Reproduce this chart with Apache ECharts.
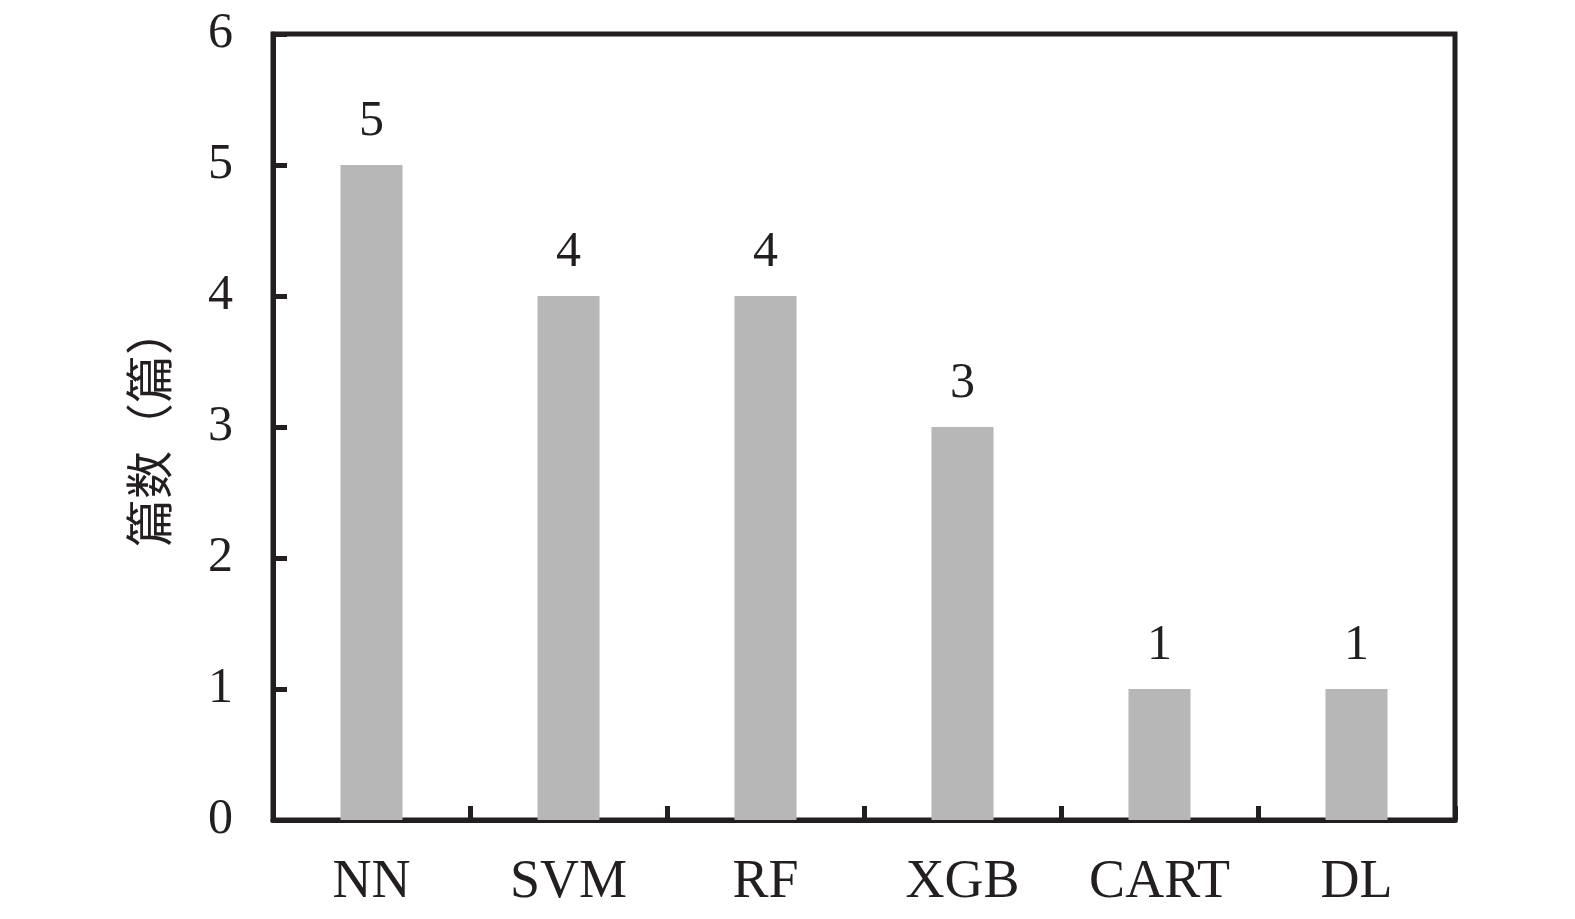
<!DOCTYPE html>
<html>
<head>
<meta charset="utf-8">
<script src="https://cdn.jsdelivr.net/npm/echarts@6/dist/echarts.min.js"></script>
<style>
html,body{margin:0;padding:0;background:#fff;}
#chart{width:1575px;height:919px;}
</style>
</head>
<body>
<div id="chart"></div>
<script>
const categories = ['NN', 'SVM', 'RF', 'XGB', 'CART', 'DL'];
const counts = [5, 4, 4, 3, 1, 1];
const yAxisName = '篇数（篇）';
const yMin = 0, yMax = 6, yInterval = 1;

const ink = '#231f20';
const serif = '"Liberation Serif", "DejaVu Serif", serif';
const chart = echarts.init(document.getElementById('chart'), null, {renderer: 'canvas'});
chart.setOption({
  animation: false,
  backgroundColor: '#fff',
  grid: {
    left: 273, right: 120, top: 34, bottom: 99,
    show: true, borderColor: ink, borderWidth: 5, backgroundColor: 'transparent'
  },
  xAxis: {
    type: 'category',
    data: categories,
    boundaryGap: true,
    axisLine: {show: true, lineStyle: {color: ink, width: 5}},
    axisTick: {show: true, inside: true, length: 14, alignWithLabel: false, lineStyle: {color: ink, width: 5}},
    axisLabel: {color: ink, fontFamily: serif, fontSize: 54, margin: 36},
    splitLine: {show: false}
  },
  yAxis: {
    type: 'value',
    min: yMin, max: yMax, interval: yInterval,
    name: yAxisName,
    nameLocation: 'middle',
    nameGap: 100,
    nameRotate: 90,
    nameTextStyle: {color: ink, fontFamily: '"Noto Sans CJK SC", sans-serif', fontSize: 48},
    axisLine: {show: true, lineStyle: {color: ink, width: 5}},
    axisTick: {show: true, inside: true, length: 14, lineStyle: {color: ink, width: 5}},
    axisLabel: {color: ink, fontFamily: serif, fontSize: 50, margin: 40},
    splitLine: {show: false}
  },
  series: [{
    type: 'bar',
    data: counts,
    barWidth: '31.5%',
    itemStyle: {color: '#b7b7b7'},
    label: {show: true, position: 'top', distance: 18, color: ink, fontFamily: serif, fontSize: 50}
  }]
});
</script>
</body>
</html>
